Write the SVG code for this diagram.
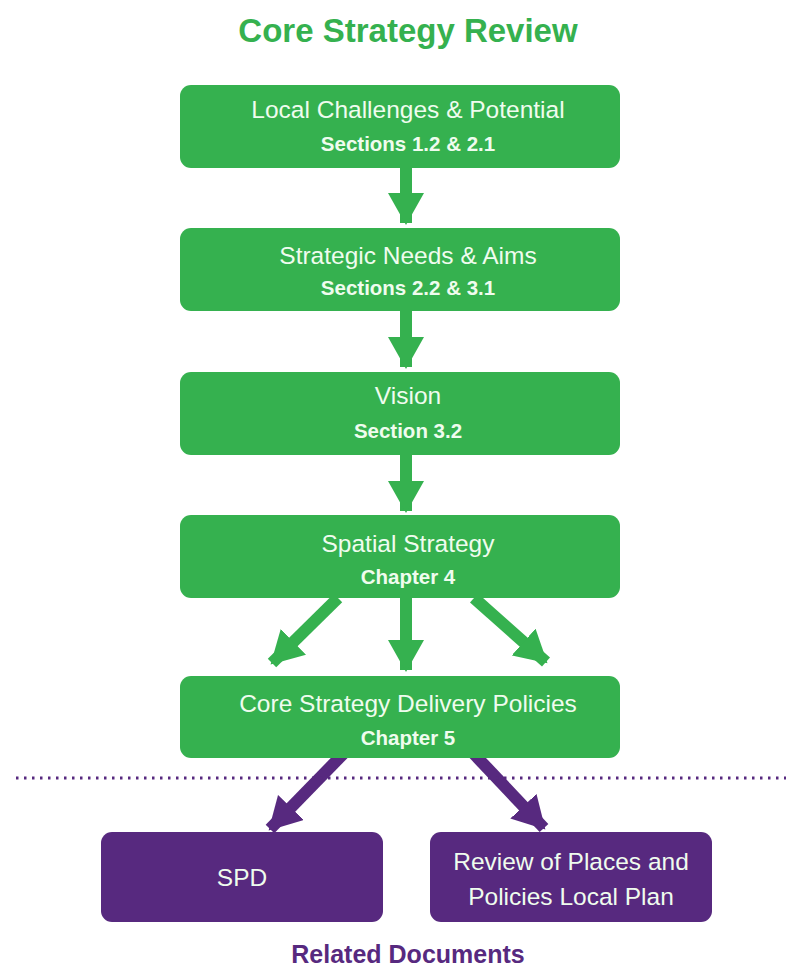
<svg xmlns="http://www.w3.org/2000/svg" width="788" height="970" viewBox="0 0 788 970">
<defs>
<style>
.g{fill:#35b14f}
.p{fill:#57297f}
.t{font-family:"Liberation Sans",Arial,sans-serif;fill:#effcee;text-anchor:middle}
.h{font-size:24.5px}
.s{font-size:20.5px;font-weight:bold}
.cg{stroke:#35b14f;stroke-width:12;fill:none}
.cp{stroke:#57297f;stroke-width:12;fill:none}
</style>
<marker id="ag" markerUnits="userSpaceOnUse" markerWidth="36" markerHeight="36" viewBox="0 0 36 36" refX="30" refY="18" orient="auto">
<path d="M0,0 L32,18 L0,36 Z" fill="#35b14f"/>
</marker>
<marker id="ap" markerUnits="userSpaceOnUse" markerWidth="36" markerHeight="36" viewBox="0 0 36 36" refX="30" refY="18" orient="auto">
<path d="M0,0 L32,18 L0,36 Z" fill="#57297f"/>
</marker>
</defs>
<rect width="788" height="970" fill="#ffffff"/>
<text x="408" y="42" font-family="'Liberation Sans',Arial,sans-serif" font-size="33" font-weight="bold" fill="#35b14f" text-anchor="middle">Core Strategy Review</text>

<g id="connectors">
<line class="cg" x1="406" y1="166" x2="406" y2="223" marker-end="url(#ag)"/>
<line class="cg" x1="406" y1="309" x2="406" y2="367" marker-end="url(#ag)"/>
<line class="cg" x1="406" y1="453" x2="406" y2="511" marker-end="url(#ag)"/>
<line class="cg" x1="338" y1="598" x2="272" y2="663" marker-end="url(#ag)"/>
<line class="cg" x1="406" y1="596" x2="406" y2="670" marker-end="url(#ag)"/>
<line class="cg" x1="474" y1="598" x2="546" y2="662" marker-end="url(#ag)"/>
<line class="cp" x1="345" y1="752" x2="270" y2="829" marker-end="url(#ap)"/>
<line class="cp" x1="474" y1="754" x2="544" y2="828" marker-end="url(#ap)"/>
</g>

<line x1="16" y1="778" x2="786" y2="778" stroke="#57297f" stroke-width="3" stroke-dasharray="2.5 5.5"/>

<g id="n1">
<rect class="g" x="180" y="85" width="440" height="83" rx="11"/>
<text class="t h" x="408" y="118">Local Challenges &amp; Potential</text>
<text class="t s" x="408" y="151">Sections 1.2 &amp; 2.1</text>
</g>
<g id="n2">
<rect class="g" x="180" y="228" width="440" height="83" rx="11"/>
<text class="t h" x="408" y="264">Strategic Needs &amp; Aims</text>
<text class="t s" x="408" y="295">Sections 2.2 &amp; 3.1</text>
</g>
<g id="n3">
<rect class="g" x="180" y="372" width="440" height="83" rx="11"/>
<text class="t h" x="408" y="404">Vision</text>
<text class="t s" x="408" y="438">Section 3.2</text>
</g>
<g id="n4">
<rect class="g" x="180" y="515" width="440" height="83" rx="11"/>
<text class="t h" x="408" y="552">Spatial Strategy</text>
<text class="t s" x="408" y="584">Chapter 4</text>
</g>
<g id="n5">
<rect class="g" x="180" y="676" width="440" height="82" rx="11"/>
<text class="t h" x="408" y="712">Core Strategy Delivery Policies</text>
<text class="t s" x="408" y="745">Chapter 5</text>
</g>
<g id="n6">
<rect class="p" x="101" y="832" width="282" height="90" rx="11"/>
<text class="t h" x="242" y="886">SPD</text>
</g>
<g id="n7">
<rect class="p" x="430" y="832" width="282" height="90" rx="11"/>
<text class="t h" x="571" y="870">Review of Places and</text>
<text class="t h" x="571" y="905">Policies Local Plan</text>
</g>
<text x="408" y="963" font-family="'Liberation Sans',Arial,sans-serif" font-size="25" font-weight="bold" fill="#57297f" text-anchor="middle">Related Documents</text>
</svg>
